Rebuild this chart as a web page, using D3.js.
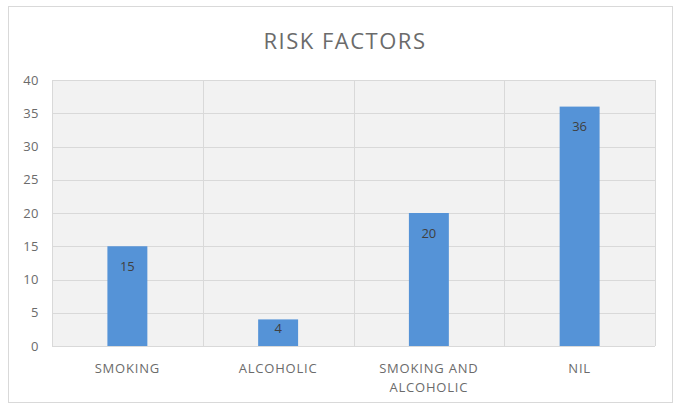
<!DOCTYPE html>
<html>
<head>
<meta charset="utf-8">
<script src="https://cdn.jsdelivr.net/npm/d3@7"></script>
<style>
  body { margin: 0; background: #fff; }
  text { font-family: "Open Sans", "Noto Sans", sans-serif; }
</style>
</head>
<body>
<svg id="chart" width="675" height="406"></svg>
<script>
const categories = ["SMOKING", "ALCOHOLIC", "SMOKING AND ALCOHOLIC", "NIL"];
const categoryLines = [["SMOKING"], ["ALCOHOLIC"], ["SMOKING AND", "ALCOHOLIC"], ["NIL"]];
const values = [15, 4, 20, 36];
const yTicks = [0, 5, 10, 15, 20, 25, 30, 35, 40];

const margin = { left: 52, top: 80, right: 20, bottom: 60 };
const width = 675, height = 406;

const svg = d3.select("#chart");

// outer chart border
svg.append("rect")
  .attr("x", 8.5).attr("y", 6.5)
  .attr("width", 664).attr("height", 396)
  .attr("fill", "#fff")
  .attr("stroke", "#d9d9d9");

const x = d3.scaleBand()
  .domain(categories)
  .range([margin.left, width - margin.right])
  .paddingInner(0).paddingOuter(0);

const y = d3.scaleLinear()
  .domain([0, 40])
  .range([height - margin.bottom, margin.top]);

// plot area
svg.append("rect")
  .attr("x", margin.left).attr("y", margin.top)
  .attr("width", x.range()[1] - margin.left)
  .attr("height", y(0) - margin.top)
  .attr("fill", "#f2f2f2");

// horizontal grid
svg.append("g")
  .selectAll("line")
  .data(yTicks)
  .join("line")
  .attr("x1", margin.left).attr("x2", x.range()[1])
  .attr("y1", d => Math.round(y(d)) + 0.5).attr("y2", d => Math.round(y(d)) + 0.5)
  .attr("stroke", "#d9d9d9");

// vertical category separators
const seps = categories.map(c => x(c)).concat([x.range()[1]]);
svg.append("g")
  .selectAll("line")
  .data(seps)
  .join("line")
  .attr("x1", d => Math.round(d) + 0.5).attr("x2", d => Math.round(d) + 0.5)
  .attr("y1", margin.top).attr("y2", y(0))
  .attr("stroke", "#d9d9d9");

// y axis labels
const yAxis = svg.append("g")
  .attr("transform", `translate(${margin.left - 13},0)`)
  .call(d3.axisLeft(y).tickValues(yTicks).tickSize(0).tickPadding(0));
yAxis.select(".domain").remove();
yAxis.selectAll("text")
  .attr("fill", "#6b6b6b")
  .style("font-size", "13px")
  .style("letter-spacing", "0.5px");

// bars
const barW = x.bandwidth() * 0.265;
svg.append("g")
  .selectAll("rect")
  .data(values)
  .join("rect")
  .attr("x", (d, i) => x(categories[i]) + (x.bandwidth() - barW) / 2)
  .attr("y", d => y(d))
  .attr("width", barW)
  .attr("height", d => y(0) - y(d))
  .attr("fill", "#5593d7");

// value labels
svg.append("g")
  .selectAll("text")
  .data(values)
  .join("text")
  .attr("x", (d, i) => x(categories[i]) + x.bandwidth() / 2)
  .attr("y", d => y(d) + Math.min(20, (y(0) - y(d)) * 0.35))
  .attr("dy", "0.35em")
  .attr("text-anchor", "middle")
  .attr("fill", "#404040")
  .style("font-size", "13px")
  .text(d => d);

// category labels
const xl = svg.append("g")
  .selectAll("text")
  .data(categoryLines)
  .join("text")
  .attr("x", (d, i) => x(categories[i]) + x.bandwidth() / 2)
  .attr("y", y(0) + 27)
  .attr("text-anchor", "middle")
  .attr("fill", "#6b6b6b")
  .style("font-size", "13px")
  .style("letter-spacing", "0.8px");
xl.selectAll("tspan")
  .data(d => d)
  .join("tspan")
  .attr("x", function () { return d3.select(this.parentNode).attr("x"); })
  .attr("dy", (d, i) => i === 0 ? 0 : 19)
  .text(d => d);

// title
svg.append("text")
  .attr("x", 345)
  .attr("y", 49)
  .attr("text-anchor", "middle")
  .attr("fill", "#6b6b6b")
  .style("font-size", "22px")
  .style("letter-spacing", "1.5px")
  .text("RISK FACTORS");
</script>
</body>
</html>
